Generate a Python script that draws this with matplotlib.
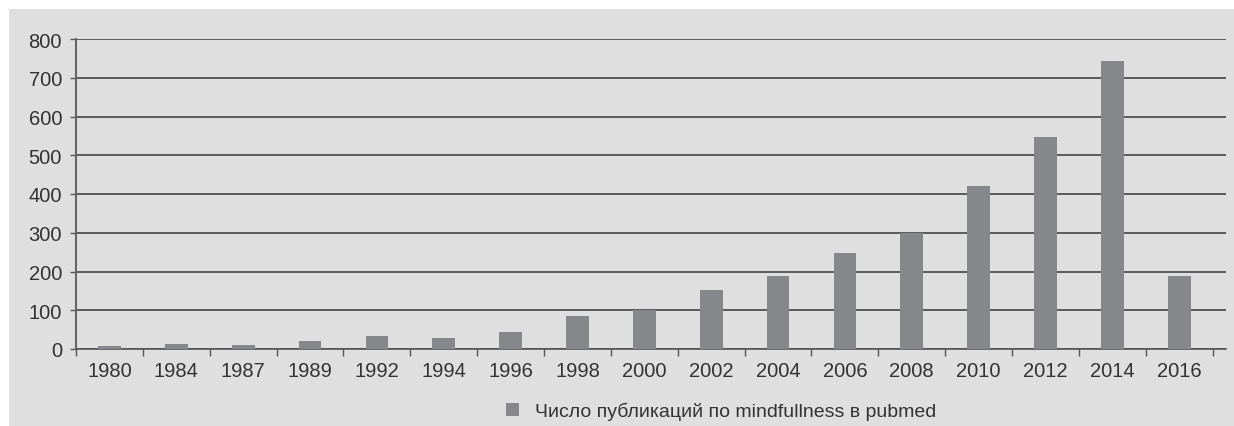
import matplotlib.pyplot as plt
from matplotlib.patches import Rectangle, Patch

# publications per year
years = ['1980', '1984', '1987', '1989', '1992', '1994', '1996', '1998', '2000',
         '2002', '2004', '2006', '2008', '2010', '2012', '2014', '2016']
counts = [7, 12, 10, 20, 34, 29, 45, 84, 101, 151, 189, 248, 299, 420, 547, 743, 189]
label = 'Число публикаций по mindfullness в pubmed'

plt.rcParams['font.family'] = ['Liberation Sans', 'DejaVu Sans']
bg = '#dedfde'
bar_color = '#85878a'
text_color = '#333333'

W, H = 1234, 427
fig = plt.figure(figsize=(W / 100, H / 100), dpi=100, facecolor='white')
# gray panel behind the chart
fig.patches.append(Rectangle((9 / W, 0), 1 - 9 / W, (H - 10) / H,
                             transform=fig.transFigure, facecolor=bg,
                             edgecolor='none', zorder=-1))

ax = fig.add_axes([76 / W, (H - 350) / H, (1226 - 76) / W, 310 / H])
ax.set_facecolor(bg)

x = range(len(years))
ax.bar(x, counts, width=0.34, color=bar_color, zorder=3)

# gridlines run a little past the last category
ax.set_xlim(-0.5, len(years) - 0.3)
ax.set_ylim(0, 800)
ax.set_yticks(range(0, 801, 100))
ax.yaxis.grid(True, color='#444444', linewidth=1.2, zorder=1)
ax.set_axisbelow(True)

# category labels between boundary ticks
ax.set_xticks([i - 0.5 for i in range(len(years) + 1)])
ax.set_xticklabels([])
ax.set_xticks(list(x), minor=True)
ax.set_xticklabels(years, minor=True)
ax.tick_params(axis='x', which='major', length=5, width=1, color='#555555', direction='out')
ax.tick_params(axis='x', which='minor', length=0, pad=9, labelsize=14.5, labelcolor=text_color)
ax.tick_params(axis='y', length=4, width=1, color='#555555', pad=6,
               labelsize=14.5, labelcolor=text_color)

for s in ['top', 'right']:
    ax.spines[s].set_visible(False)
ax.spines['left'].set_color('#666666')
ax.spines['left'].set_linewidth(1.5)
ax.spines['bottom'].set_color('#555555')
ax.spines['bottom'].set_linewidth(1.2)

fig.legend(handles=[Patch(facecolor=bar_color, label=label)],
           loc='center left', bbox_to_anchor=(496 / W, (H - 412) / H),
           frameon=False, fontsize=14, labelcolor=text_color,
           handlelength=0.7, handleheight=0.7, handletextpad=0.8, borderpad=0)

plt.savefig('out.png', dpi=100, facecolor='white')
